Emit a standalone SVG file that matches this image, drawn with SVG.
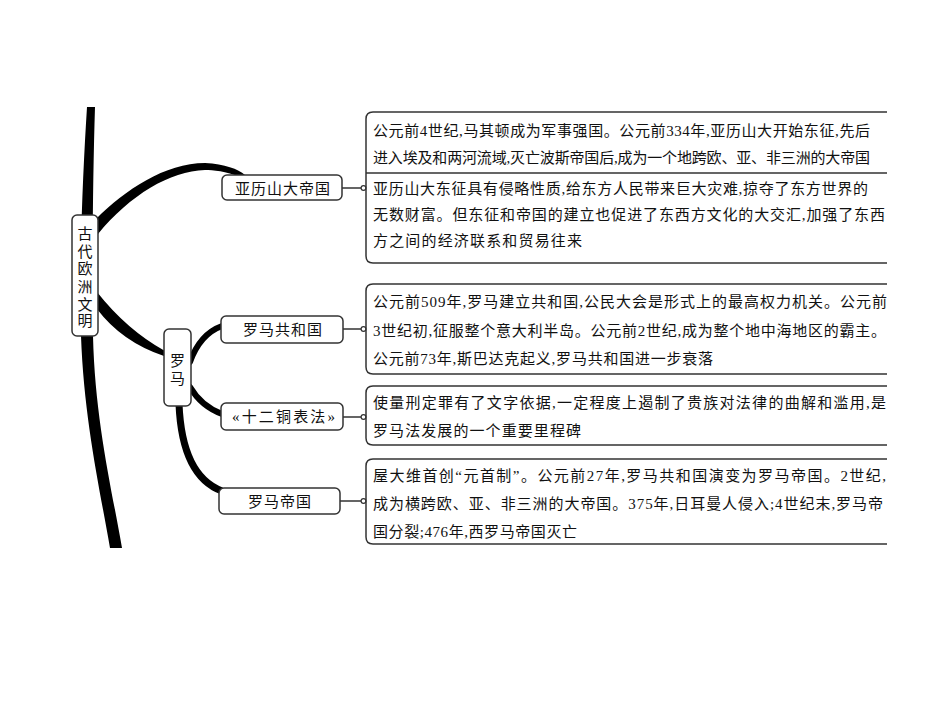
<svg xmlns="http://www.w3.org/2000/svg" width="950" height="713" viewBox="0 0 950 713">
<style>
.node{fill:#fff;stroke:#333;stroke-width:1.5}
.lbl{font-family:"Liberation Serif","Noto Sans CJK SC",serif;font-size:15px;fill:#111;text-anchor:middle}
.txt{font-family:"Liberation Serif","Noto Sans CJK SC",serif;font-size:15px;fill:#111}
.bx{fill:none;stroke:#333;stroke-width:1.5}
.br{fill:#000;stroke:none}
.brs{fill:none;stroke:#000;stroke-linecap:round}
.ln{stroke:#333;stroke-width:1.3;fill:none}
.dot{fill:#fff;stroke:#333;stroke-width:1.2}
</style>
<rect width="950" height="713" fill="#fff"/>
<g id="connectors">
  <path class="br" d="M87 107 C83 170 79 260 81 336 C84 420 100 490 110 548 L122 548 C112 490 95 420 93 336 C92 260 93 170 95 107 Z"/>
  <path class="br" d="M96 219 C125 190 165 163 205 163 C225 164 238 169 245 175 L240 177 C226 171 213 170 205 170 C170 171 130 195 98 234 Z"/>
  <path class="br" d="M97 292 Q127 330 165 351 L164 356 Q122 342 97 309 Z"/>
  <path class="brs" stroke-width="6" d="M190 362 Q200 334 222 326"/>
  <path class="brs" stroke-width="6" d="M190 387 Q201 406 222 414"/>
  <path class="brs" stroke-width="7" d="M179 404 C181 452 195 481 222 491"/>
  <path class="ln" d="M342 188 H361 M343 329 H361 M343 417 H361 M340 501 H361"/>
  <circle class="dot" cx="363.5" cy="188" r="2.4"/>
  <circle class="dot" cx="363.5" cy="329" r="2.4"/>
  <circle class="dot" cx="363.5" cy="417" r="2.4"/>
  <circle class="dot" cx="363.5" cy="501" r="2.4"/>
</g>
<g id="node-root">
  <rect class="node" x="72" y="215" width="26" height="121" rx="5"/>
  <text class="lbl" font-size="16">
    <tspan x="85" y="239">古</tspan><tspan x="85" y="256.5">代</tspan><tspan x="85" y="274">欧</tspan><tspan x="85" y="292">洲</tspan><tspan x="85" y="309.5">文</tspan><tspan x="85" y="326">明</tspan>
  </text>
</g>
<g id="node-alexander">
  <rect class="node" x="222" y="175" width="120" height="25" rx="5"/>
  <text class="lbl" x="282.5" y="193.5" textLength="95" lengthAdjust="spacing">亚历山大帝国</text>
</g>
<g id="node-rome">
  <rect class="node" x="164" y="329" width="27" height="77" rx="5"/>
  <text class="lbl" font-size="16"><tspan x="177.5" y="366">罗</tspan><tspan x="177.5" y="384">马</tspan></text>
</g>
<g id="node-republic">
  <rect class="node" x="221" y="316" width="122" height="27" rx="5"/>
  <text class="lbl" x="282.5" y="335" textLength="79" lengthAdjust="spacing">罗马共和国</text>
</g>
<g id="node-twelve-tables">
  <rect class="node" x="221" y="403" width="122" height="27" rx="5"/>
  <text class="lbl" x="283.5" y="422" textLength="103" lengthAdjust="spacing">«十二铜表法»</text>
</g>
<g id="node-empire">
  <rect class="node" x="219" y="488" width="121" height="26" rx="5"/>
  <text class="lbl" x="279.5" y="507" textLength="63" lengthAdjust="spacing">罗马帝国</text>
</g>
<g id="box-alexander">
  <path class="bx" d="M887 112 H373 Q366 112 366 119 V256 Q366 263 373 263 H887 M366 173 H887"/>
  <text class="txt" x="373" y="135.5" textLength="497" lengthAdjust="spacing">公元前4世纪,马其顿成为军事强国。公元前334年,亚历山大开始东征,先后</text>
  <text class="txt" x="373" y="162.5" textLength="497" lengthAdjust="spacing">进入埃及和两河流域,灭亡波斯帝国后,成为一个地跨欧、亚、非三洲的大帝国</text>
  <text class="txt" x="373" y="193.5" textLength="495" lengthAdjust="spacing">亚历山大东征具有侵略性质,给东方人民带来巨大灾难,掠夺了东方世界的</text>
  <text class="txt" x="373" y="219.5" textLength="512" lengthAdjust="spacing">无数财富。但东征和帝国的建立也促进了东西方文化的大交汇,加强了东西</text>
  <text class="txt" x="373" y="245.5" textLength="209" lengthAdjust="spacing">方之间的经济联系和贸易往来</text>
</g>
<g id="box-republic">
  <path class="bx" d="M887 284 H373 Q366 284 366 291 V367 Q366 374 373 374 H887"/>
  <text class="txt" x="373" y="306.5" textLength="514" lengthAdjust="spacing">公元前509年,罗马建立共和国,公民大会是形式上的最高权力机关。公元前</text>
  <text class="txt" x="373" y="335.5" textLength="513" lengthAdjust="spacing">3世纪初,征服整个意大利半岛。公元前2世纪,成为整个地中海地区的霸主。</text>
  <text class="txt" x="373" y="363.5" textLength="340" lengthAdjust="spacing">公元前73年,斯巴达克起义,罗马共和国进一步衰落</text>
</g>
<g id="box-twelve-tables">
  <path class="bx" d="M887 386 H373 Q366 386 366 393 V438 Q366 445 373 445 H887"/>
  <text class="txt" x="373" y="408" textLength="513" lengthAdjust="spacing">使量刑定罪有了文字依据,一定程度上遏制了贵族对法律的曲解和滥用,是</text>
  <text class="txt" x="373" y="436" textLength="208" lengthAdjust="spacing">罗马法发展的一个重要里程碑</text>
</g>
<g id="box-empire">
  <path class="bx" d="M887 459 H373 Q366 459 366 466 V537 Q366 544 373 544 H887"/>
  <text class="txt" x="373" y="480.5" textLength="513" lengthAdjust="spacing">屋大维首创“元首制”。公元前27年,罗马共和国演变为罗马帝国。2世纪,</text>
  <text class="txt" x="373" y="508.5" textLength="510" lengthAdjust="spacing">成为横跨欧、亚、非三洲的大帝国。375年,日耳曼人侵入;4世纪末,罗马帝</text>
  <text class="txt" x="373" y="537" textLength="204" lengthAdjust="spacing">国分裂;476年,西罗马帝国灭亡</text>
</g>
</svg>
